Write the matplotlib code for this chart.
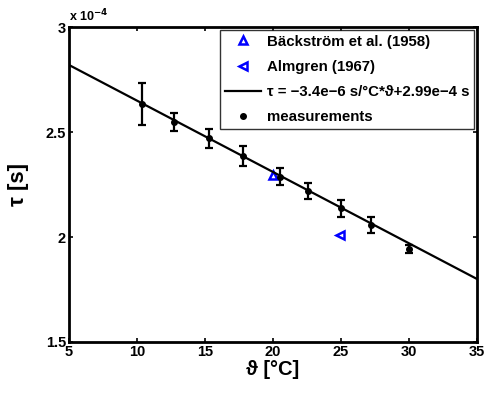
import numpy as np
import matplotlib.pyplot as plt
from matplotlib.lines import Line2D

plt.rcParams['font.family'] = ['Liberation Sans', 'DejaVu Sans']
plt.rcParams['font.weight'] = 'bold'

# measurements (tau in units of 1e-4 s)
temp = [10.4, 12.7, 15.3, 17.8, 20.5, 22.6, 25.0, 27.2, 30.0]
tau = [2.633, 2.548, 2.471, 2.387, 2.287, 2.219, 2.137, 2.057, 1.943]
tau_err = [0.10, 0.045, 0.045, 0.048, 0.04, 0.036, 0.04, 0.036, 0.02]

# literature values
back_x = [20.0]
back_y = [2.295]
alm_x = [24.95]
alm_y = [2.01]

# linear fit
slope = -3.4e-6
icpt = 2.99e-4
fit_x = np.array([5, 35])
fit_y = (slope * fit_x + icpt) * 1e4

fig = plt.figure(figsize=(4.85, 3.99), dpi=100)
ax = fig.add_axes([0.142, 0.143, 0.8415, 0.789])

h1, = ax.plot(back_x, back_y, '^', color='blue', mfc='none', mew=1.8, ms=6,
              label='Bäckström et al. (1958)')
h2, = ax.plot(alm_x, alm_y, '<', color='blue', mfc='none', mew=1.8, ms=6,
              label='Almgren (1967)')
h3, = ax.plot(fit_x, fit_y, '-', color='black', lw=1.6,
              label='τ = \u22123.4e\u22126 s/°C*ϑ+2.99e\u22124 s')
ax.errorbar(temp, tau, yerr=tau_err, fmt='o', color='black', ms=4,
            elinewidth=1.6, capsize=3, capthick=1.6)
h4 = Line2D([], [], ls='none', marker='o', color='black', ms=4,
            label='measurements')

ax.set_xlim(5, 35)
ax.set_ylim(1.5, 3)
ax.set_xticks([5, 10, 15, 20, 25, 30, 35])
ax.set_yticks([1.5, 2, 2.5, 3])
ax.set_yticklabels(['1.5', '2', '2.5', '3'])
ax.tick_params(direction='in', top=True, right=True, labelsize=10.5,
               length=3, width=1.2, pad=2)
for sp in ax.spines.values():
    sp.set_linewidth(2)

ax.text(0.0, 1.01, 'x 10$^{\\mathbf{-4}}$', transform=ax.transAxes,
        fontsize=9, fontweight='bold', ha='left', va='bottom')

ax.set_xlabel('ϑ [°C]', fontsize=14.5, fontweight='bold', labelpad=1)
ax.set_ylabel('τ [s]', fontsize=16, fontweight='bold', labelpad=12)

leg = ax.legend(handles=[h1, h2, h3, h4], loc='upper right', fontsize=10.8,
                frameon=True, fancybox=False, borderaxespad=0.2,
                handlelength=2.4, labelspacing=0.75, borderpad=0.3,
                handletextpad=0.4)
leg.get_frame().set_edgecolor('black')
leg.get_frame().set_linewidth(1.0)

fig.savefig('out.png', dpi=100)
